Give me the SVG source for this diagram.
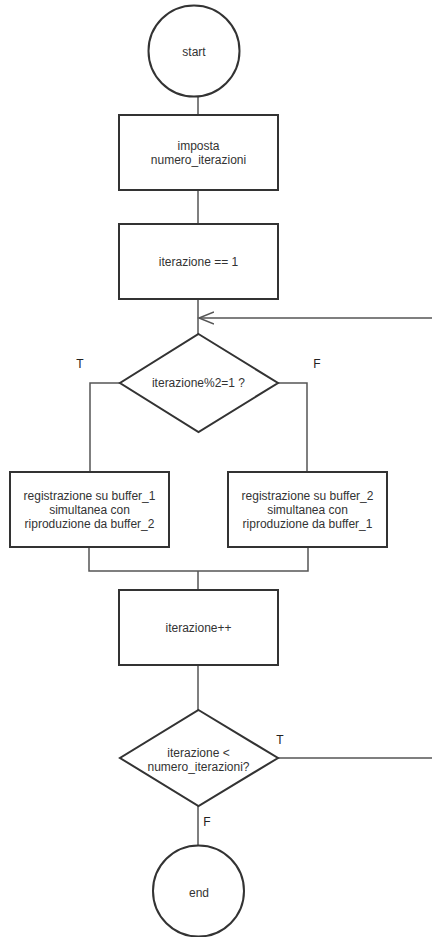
<svg xmlns="http://www.w3.org/2000/svg" width="432" height="937" viewBox="0 0 432 937">
<defs>
<style>
.shape{fill:#fff;stroke:#333;stroke-width:2}
.conn{fill:none;stroke:#555;stroke-width:1.5}
text{font-family:"Liberation Sans",Arial,sans-serif;font-size:12px;fill:#333;text-anchor:middle;dominant-baseline:central}
.lbl{font-size:12px;fill:#222}
</style>
<marker id="open" markerWidth="18" markerHeight="14" refX="15" refY="7" orient="auto" markerUnits="userSpaceOnUse">
<path d="M0,1 L15,7 L0,13" fill="none" stroke="#555" stroke-width="1.5"/>
</marker>
</defs>
<rect width="432" height="937" fill="#fff"/>
<g id="connectors">
<line class="conn" x1="198" y1="96" x2="198" y2="115"/>
<line class="conn" x1="198" y1="190" x2="198" y2="224"/>
<line class="conn" x1="198" y1="299" x2="198" y2="334"/>
<line class="conn" x1="432" y1="318" x2="199" y2="318" marker-end="url(#open)"/>
<polyline class="conn" points="120,383 90,383 90,472"/>
<polyline class="conn" points="278,383 307,383 307,472"/>
<polyline class="conn" points="89,547 89,571 308,571 308,547"/>
<line class="conn" x1="198" y1="571" x2="198" y2="590"/>
<line class="conn" x1="198" y1="665" x2="198" y2="710"/>
<line class="conn" x1="278" y1="758" x2="432" y2="758"/>
<line class="conn" x1="198" y1="806" x2="198" y2="846"/>
<text class="lbl" x="80" y="364">T</text>
<text class="lbl" x="317" y="364">F</text>
<text class="lbl" x="280" y="740">T</text>
<text class="lbl" x="207" y="822">F</text>
</g>
<g id="start">
<circle class="shape" cx="194" cy="51" r="45.5"/>
<text x="194" y="52">start</text>
</g>
<g id="imposta">
<rect class="shape" x="119" y="115" width="159" height="75"/>
<text x="198.5" y="146">imposta</text>
<text x="198.5" y="160">numero_iterazioni</text>
</g>
<g id="init">
<rect class="shape" x="119" y="224" width="159" height="75"/>
<text x="198.5" y="262">iterazione == 1</text>
</g>
<g id="parity">
<polygon class="shape" points="198.5,334 278,383 198.5,432 120,383"/>
<text x="198.5" y="383">iterazione%2=1 ?</text>
</g>
<g id="rec1">
<rect class="shape" x="10" y="472" width="159" height="75"/>
<text x="89.5" y="496">registrazione su buffer_1</text>
<text x="89.5" y="510">simultanea con</text>
<text x="89.5" y="524">riproduzione da buffer_2</text>
</g>
<g id="rec2">
<rect class="shape" x="228" y="472" width="159" height="75"/>
<text x="307.5" y="496">registrazione su buffer_2</text>
<text x="307.5" y="510">simultanea con</text>
<text x="307.5" y="524">riproduzione da buffer_1</text>
</g>
<g id="incr">
<rect class="shape" x="119" y="590" width="159" height="75"/>
<text x="198.5" y="628">iterazione++</text>
</g>
<g id="check">
<polygon class="shape" points="198.5,710 278,758 198.5,806 120,758"/>
<text x="198.5" y="753">iterazione &lt;</text>
<text x="198.5" y="767">numero_iterazioni?</text>
</g>
<g id="end">
<circle class="shape" cx="198.5" cy="891" r="45.5"/>
<text x="199" y="893">end</text>
</g>
</svg>
